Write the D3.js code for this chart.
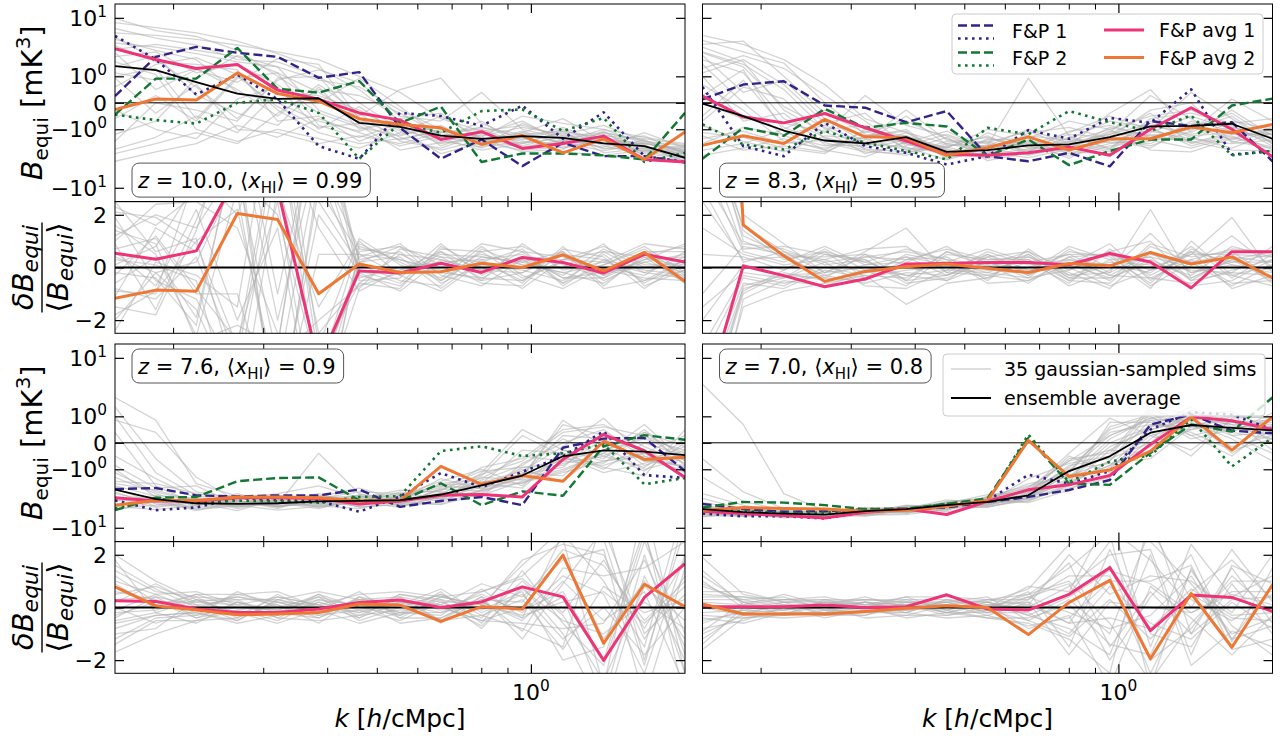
<!DOCTYPE html>
<html>
<head>
<meta charset="utf-8">
<script src="https://cdn.jsdelivr.net/npm/d3@7/dist/d3.min.js"></script>
<style>
html,body{margin:0;padding:0;background:#fff;}
svg text{font-family:"DejaVu Sans",sans-serif;fill:#000;}
</style>
</head>
<body>
<svg id="chart" width="1280" height="740"></svg>
<script>
// ---- k bins [h/cMpc] and tick values ----
const kBins = [0.154,0.185,0.222,0.267,0.320,0.385,0.462,0.555,0.667,0.801,0.962,1.155,1.387,1.666,2.0];
const kTicksMinor = [0.2,0.3,0.4,0.5,0.6,0.7,0.8,0.9];
const kTicksMajor = [1];
const bTicks = [-10,-1,0,1,10];
const bTickLabels = [["−10","1"],["−10","0"],["0",""],["10","0"],["10","1"]];
const ratioTicks = [-2,0,2];
const ratioTickLabels = ["−2","0","2"];

// ---- z = 10.0, <x_HI> = 0.99 ----
const fp1Dashed_z10 = [0.18,2.47,3.64,2.9,2.47,0.92,1.25,-0.92,-3.64,-1.66,-4.76,-1.92,-3.3,-3.3,-4.2];
const fp1Dotted_z10 = [5.4,2.22,0.23,1.1,0.09,-2.22,-3.64,-0.29,-0.4,-0.82,-0.07,-1.61,-0.27,-3.3,-4.1];
const fp2Dashed_z10 = [-0.35,0.88,0.88,3.5,0.43,0.29,0.76,-0.68,-0.10,-4.1,-2.98,-2.98,-3.2,-3.74,-0.29];
const fp2Dotted_z10 = [-0.35,-0.56,-0.71,0,0.09,-0.29,-3.64,-0.71,-1.2,-0.23,-0.18,-1.1,-0.47,-4.1,-2.9];
const avg1_z10 = [3.38,2.22,1.49,1.78,0.38,0.09,-0.29,-0.56,-1.66,-1.14,-2.44,-1.98,-1.42,-3.74,-4.12];
const avg2_z10 = [-0.18,0.10,0.07,1.2,0.26,0.04,-0.5,-0.76,-0.92,-2.06,-1.38,-2.9,-1.61,-3.74,-1.16];
const ens_z10 = [1.66,1.38,0.71,0.26,0.10,0.12,-0.68,-0.87,-1.38,-1.61,-1.42,-1.54,-1.98,-2.21,-3.51];
const avg1Ratio_z10 = [0.54,0.31,0.63,3.5,3.0,-3.7,-0.13,-0.21,0.16,-0.19,0.38,0.19,-0.21,0.5,0.21];
const avg2Ratio_z10 = [-1.17,-0.86,-0.9,2.05,1.82,-1.0,0.13,-0.19,-0.16,0.16,0,0.48,-0.13,0.57,-0.53];
const sims_z10 = [
[8.5,7.2,6.0,4.5,2.8,1.5,0.4,-0.6,-1.2,-0.9,-1.3,-1.1,-1.6,-2.0,-2.6],
[6.0,5.5,4.8,3.9,3.0,2.2,1.0,0.3,-0.5,-1.1,-0.8,-1.4,-1.2,-1.8,-2.2],
[4.2,3.6,2.8,2.0,1.6,0.8,0.5,-0.2,-1.0,-1.8,-1.1,-2.0,-1.6,-2.4,-3.0],
[2.5,3.0,1.2,1.8,0.6,-0.3,-0.9,-1.4,-0.8,-2.2,-1.9,-1.2,-2.5,-1.7,-3.4],
[1.2,0.8,1.5,0.4,-0.4,0.6,-0.3,-1.8,-2.4,-1.3,-0.6,-1.8,-2.0,-2.8,-2.3],
[-0.5,0.2,-0.6,0.9,1.2,-0.8,-1.5,-0.7,-1.6,-2.6,-2.0,-1.5,-1.3,-2.2,-4.0],
[-2.5,-1.5,-0.4,-1.2,0.3,0.2,-0.2,-1.1,-3.0,-1.9,-2.6,-2.3,-1.7,-1.4,-3.1],
[-4.0,-2.8,-2.0,-0.8,-1.5,-0.5,-1.2,-2.2,-1.4,-0.9,-1.5,-2.8,-3.2,-2.6,-2.7],
[3.3,4.0,3.2,2.5,1.2,0.3,-0.4,0.4,0.9,-0.7,-1.7,-1.0,-2.2,-3.0,-3.6],
[7.0,5.0,3.9,2.2,2.0,1.0,-0.6,-0.9,-2.0,-1.5,-0.4,-0.7,-1.0,-1.5,-2.0],
[0.5,1.8,2.4,1.1,-0.2,-1.2,-2.0,-1.6,-1.1,-2.4,-1.3,-1.9,-2.7,-1.9,-2.9],
[5.2,2.2,0.5,-0.5,0.8,1.4,0.7,-0.4,-0.6,0.3,-1.0,-1.6,-1.5,-2.3,-3.3],
[-1.3,-0.6,0.9,2.6,1.6,-0.2,-0.8,-2.6,-1.9,-1.1,-2.2,-1.4,-1.9,-2.0,-2.5],
[2.0,1.1,-1.0,-1.8,-1.0,-1.6,-2.4,-1.2,-0.4,-1.6,-2.8,-2.5,-1.1,-3.3,-3.8],
[9.8,6.5,5.3,3.2,1.0,0.0,0.9,-0.1,-1.5,-2.0,-1.6,-0.9,-2.0,-2.5,-3.0],
[1.6,2.6,0.2,-0.3,-0.8,0.5,-1.0,-0.5,-2.2,-1.2,-1.8,-2.1,-1.4,-1.6,-2.1],
[-0.2,-1.0,-1.6,0.1,0.5,-1.0,-0.1,-1.3,-0.9,-2.0,-1.2,-0.5,-1.8,-2.8,-3.5],
[3.8,2.0,1.8,1.4,-0.6,-0.4,-1.8,-0.8,-1.7,-0.6,-2.3,-1.7,-2.3,-1.2,-2.4],
[-3.0,-2.0,-1.2,-2.0,-0.3,0.4,0.2,-0.3,-1.3,-1.4,-0.9,-1.3,-0.8,-1.8,-2.8],
[2.9,0.4,1.4,0.7,2.3,1.8,-0.5,-1.5,-2.6,-1.7,-1.4,-2.4,-1.7,-2.1,-4.2],
[0.9,-0.3,0.6,-1.0,-1.2,-2.0,-1.4,-2.0,-1.2,-1.0,-2.0,-1.1,-2.9,-2.4,-2.2],
[4.8,3.2,2.2,0.3,0.0,-0.6,-1.1,-0.5,-0.3,-1.9,-1.2,-2.0,-1.2,-1.7,-2.9],
[-1.8,0.0,-0.2,-0.6,0.9,1.0,0.0,-1.0,-1.8,-2.3,-0.7,-1.6,-2.4,-2.6,-3.2],
[1.0,1.5,-0.5,1.0,-0.1,-0.9,-0.7,-1.7,-1.0,-1.5,-2.4,-1.8,-1.0,-2.0,-2.6]
];
const simsRatio_z10 = [
[1.2,2.0,1.5,4.0,-6.0,3.0,0.5,-0.3,0.4,0.2,-0.5,0.3,0.6,-0.2,0.4],
[-0.8,-1.2,0.4,-3.5,5.0,-2.5,-0.6,0.5,-0.2,-0.4,0.3,-0.6,0.1,0.7,-0.3],
[2.3,1.6,2.8,6.0,3.5,-4.0,0.9,0.2,-0.5,0.6,0.8,0.1,-0.4,0.3,0.9],
[0.4,-0.2,-1.6,-5.0,-3.0,7.0,-0.3,-0.7,0.6,-0.1,-0.2,0.5,0.3,-0.5,-0.1],
[-1.8,-0.9,1.0,2.2,-4.5,-5.0,0.2,0.4,-0.8,0.3,0.5,-0.4,-0.2,0.2,0.5],
[1.6,0.5,-2.6,3.0,6.0,1.5,-0.9,-0.1,0.2,-0.6,-0.7,0.7,0.4,-0.8,0.2],
[-0.3,1.2,-0.8,-2.8,2.5,-6.5,0.6,0.8,0.1,0.5,0.1,-0.2,-0.6,0.4,-0.6],
[0.9,-1.6,1.8,5.5,-2.0,4.5,-0.5,-0.4,0.9,-0.3,0.4,0.3,0.8,0.1,0.1],
[-2.4,0.2,-0.3,-1.5,7.5,-3.0,1.1,0.1,-0.4,0.8,-0.3,-0.8,0.0,-0.3,0.6],
[0.1,0.8,3.2,2.8,-5.5,2.0,-0.2,-0.9,0.3,-0.2,0.6,0.4,-0.3,0.6,-0.4],
[1.9,-0.5,-1.2,-4.2,4.0,5.5,0.3,0.6,-0.6,0.1,-0.1,-0.5,0.5,-0.6,0.3],
[-1.1,1.5,0.6,3.6,-3.5,-2.0,-0.7,-0.2,0.5,0.4,0.2,0.6,-0.5,0.2,-0.2],
[0.6,-0.7,2.2,-2.0,1.5,-7.0,0.8,0.3,-0.1,-0.5,0.9,-0.1,0.2,0.9,0.7],
[-0.6,0.4,-1.9,4.8,-6.5,3.5,-0.1,-0.6,0.7,0.6,-0.4,0.2,-0.1,-0.4,-0.5],
[2.1,1.9,0.9,-3.0,5.5,-4.5,0.4,0.9,-0.3,-0.7,0.3,-0.3,0.7,0.0,0.2],
[-1.5,-1.8,1.4,6.5,-1.0,6.0,-0.4,0.0,0.2,0.3,-0.6,0.8,-0.7,0.5,0.8],
[0.3,0.1,-0.5,-6.0,3.0,-1.5,1.0,-0.3,-0.9,0.2,0.7,-0.7,0.3,-0.1,-0.3],
[1.0,2.4,2.5,1.5,-2.5,-5.5,-0.8,0.7,0.4,-0.4,-0.5,0.5,-0.3,0.3,0.4],
[-0.2,-0.4,-2.2,5.0,4.5,2.5,0.1,-0.5,-0.7,0.7,0.1,0.0,0.9,-0.7,-0.1],
[2.5,0.6,1.1,-4.5,-4.0,4.0,0.7,0.5,0.3,-0.1,0.4,-0.4,-0.4,0.6,0.6],
[-0.9,-1.0,3.6,2.0,6.5,-3.5,-0.6,-0.8,0.8,0.0,-0.8,0.3,0.2,-0.2,-0.4],
[0.7,1.1,-1.0,-1.0,-6.0,0.5,0.5,0.3,-0.2,0.9,0.6,-0.6,0.6,0.4,0.0],
[-2.0,-0.2,0.2,3.5,2.0,-4.0,-0.2,-0.1,0.6,-0.5,-0.2,0.6,-0.8,-0.5,0.3],
[1.4,0.9,-2.8,-2.2,-3.0,6.5,0.2,0.8,-0.5,0.4,0.2,-0.2,0.1,0.8,-0.2]
];

// ---- z = 8.3, <x_HI> = 0.95 ----
const fp1Dashed_z83 = [0.09,0.6,0.75,-0.07,-0.13,-0.65,-0.23,-3.3,-4.0,-2.9,-4.8,-0.6,-0.82,-0.65,-4.0];
const fp1Dotted_z83 = [0.5,-2.22,-3.3,-0.68,-2.22,-2.9,-4.5,-3.3,-1.05,-1.61,-0.47,-0.68,0.41,-3.1,-2.72];
const fp2Dashed_z83 = [-3.64,-0.92,-1.4,-0.16,-0.92,-0.68,-0.85,-3.3,-1.66,-4.6,-2.7,-1.66,-1.66,-0.07,0.11];
const fp2Dotted_z83 = [-0.75,-2.06,-2.55,-1.1,-1.92,-2.7,-3.74,-0.92,-1.3,-0.23,-0.65,-1.1,-0.38,-3.2,-2.7];
const avg1_z83 = [0.18,-0.43,-0.68,-0.31,-0.92,-1.78,-3.1,-3.2,-2.9,-2.3,-3.2,-1.0,-0.13,-1.0,-3.38];
const avg2_z83 = [-2.15,-1.4,-1.98,-0.53,-1.47,-1.54,-3.2,-2.37,-1.47,-2.6,-1.61,-1.61,-0.88,-1.2,-0.75];
const ens_z83 = [-0.02,-0.4,-1.07,-1.74,-1.98,-1.49,-2.79,-2.6,-2.15,-2.06,-1.49,-0.85,-0.82,-0.72,-1.61];
const avg1Ratio_z83 = [-5.3,0.06,-0.31,-0.73,-0.44,0.13,0.15,0.19,0.19,0.1,0.53,0.21,-0.78,0.6,0.6];
const avg2Ratio_z83 = [30,1.61,0.44,-0.53,-0.15,0.03,0.13,-0.03,-0.19,0.15,0.06,0.57,0.13,0.4,-0.4];
const sims_z83 = [
[5.5,4.0,2.2,0.6,-0.5,-1.2,-2.0,-1.5,-2.4,-1.8,-1.0,-0.4,-0.2,-0.9,-1.3],
[4.0,4.5,1.0,-0.3,-1.2,-0.6,-1.6,-3.0,-1.5,-2.6,-1.8,-1.0,0.3,-0.5,-2.0],
[3.0,1.8,0.4,-1.0,-0.8,-2.0,-3.1,-2.2,0.9,-1.4,-2.5,-0.6,-1.4,-1.2,-0.8],
[2.2,1.2,-0.5,-1.5,-2.4,-1.7,-2.5,-3.6,-2.8,-1.1,-0.8,-1.5,-0.9,-0.3,-1.6],
[1.5,2.6,1.5,0.2,-0.6,-2.6,-2.2,-1.8,-3.1,-2.4,-1.2,0.2,-0.5,-1.8,-2.4],
[0.6,-0.2,-1.8,-2.4,-1.5,-1.0,-3.5,-2.8,-1.8,-3.0,-2.0,-1.6,-1.7,-0.6,-1.0],
[-0.4,0.8,-0.9,-1.9,-2.8,-3.0,-1.8,-2.0,-2.6,-1.6,-0.6,-0.9,-2.2,-1.4,-2.9],
[-1.2,-1.5,-2.4,-3.0,-1.0,-1.4,-2.6,-3.3,-1.2,-0.9,-1.6,-2.2,-1.1,0.1,-0.6],
[-2.0,-0.9,-1.3,-0.8,-2.0,-2.3,-3.8,-2.4,-2.0,-2.8,-3.0,-1.2,-0.4,-1.0,-1.9],
[-3.2,-2.4,-1.6,-2.6,-3.4,-1.8,-2.3,-1.4,-3.0,-1.9,-1.3,-0.7,-1.5,-2.4,-1.2],
[3.6,2.0,-0.2,-1.2,0.2,-0.8,-1.4,-2.6,-2.2,-3.3,-2.2,-1.8,-0.7,-0.8,-2.2],
[1.0,-0.6,-0.3,-2.1,-2.2,-1.2,-2.9,-1.7,-1.6,-0.6,-1.0,-2.6,-2.8,-1.6,-0.9],
[-0.8,-1.8,-2.8,-1.4,-1.6,-2.6,-1.5,-3.9,-2.9,-2.2,-0.3,0.4,-1.2,-0.2,-1.4],
[2.6,0.3,0.8,-0.5,-1.9,-0.4,-2.1,-2.2,-1.0,-2.0,-2.8,-1.3,-1.9,-1.2,-2.6],
[0.2,1.4,-1.1,-2.6,-1.1,-2.0,-3.3,-1.2,-2.3,-1.3,-1.5,-0.2,0.0,-1.9,-1.1],
[-1.6,-1.1,-2.0,-1.7,-2.6,-3.2,-2.0,-2.8,-3.5,-2.5,-0.9,-1.4,-1.0,-0.4,-2.0],
[4.6,3.0,1.9,0.0,-1.3,-1.4,-2.4,-1.0,-1.4,-1.7,-1.9,-2.0,-0.6,-1.1,-1.5],
[0.0,-0.5,-0.7,-1.1,-3.0,-1.9,-1.1,-2.5,-1.9,-3.6,-1.4,-1.1,-1.6,-2.0,-1.7],
[-2.6,-2.0,-1.0,-0.2,-0.9,-2.4,-2.7,-3.1,-2.5,-1.5,-2.4,-0.5,-0.3,-0.7,-0.5],
[1.8,0.0,-1.4,-2.2,-1.7,-0.2,-1.7,-1.9,-1.1,-2.3,-1.1,-1.7,-2.4,-1.5,-2.3],
[-0.6,0.5,0.1,-1.6,-2.1,-1.6,-3.0,-2.1,-2.7,-1.8,-2.6,-0.8,-1.3,-0.9,-1.8],
[2.9,1.6,-0.1,-0.9,-2.5,-2.8,-2.3,-3.4,-1.7,-2.7,-1.7,-2.4,-0.8,-1.7,-1.0],
[-1.4,-2.6,-2.2,-2.8,-1.4,-1.1,-3.7,-1.6,-2.1,-1.2,-0.4,-1.0,-1.8,-2.6,-2.7],
[1.2,2.2,0.6,-0.7,-0.3,-2.2,-1.3,-2.4,-3.2,-2.1,-1.3,-0.3,-2.0,-1.3,-1.3]
];
const simsRatio_z83 = [
[6.0,1.2,0.5,0.3,-0.2,0.4,0.1,-0.3,0.2,0.5,-0.2,2.2,-0.4,0.3,0.6],
[-5.0,-0.8,-0.4,0.5,0.3,-0.5,0.6,0.2,-0.4,-0.1,0.6,-0.3,0.5,1.9,-0.2],
[8.0,2.0,0.9,-0.2,0.6,1.5,-0.2,0.6,0.1,0.3,0.1,0.4,-0.7,-0.5,0.3],
[-7.0,-1.5,-0.9,-0.6,-0.3,-1.4,-0.6,-0.4,0.5,-0.5,-0.6,0.8,0.2,0.5,-0.6],
[4.0,0.6,0.2,0.8,0.1,0.2,0.8,-0.1,-0.2,0.8,0.3,-0.8,1.0,-0.3,0.1],
[-3.0,-0.3,-0.6,-0.3,-0.6,-0.2,-0.3,0.4,0.6,-0.4,-0.4,0.2,-0.3,0.8,0.4],
[5.5,1.6,0.6,0.2,0.4,0.6,0.3,-0.6,-0.5,0.1,0.9,-0.5,0.6,-0.8,-0.3],
[-6.0,-1.0,-0.2,-0.5,-0.1,-0.7,0.5,0.3,0.3,-0.7,-0.1,1.3,-0.2,0.2,0.5],
[2.5,0.3,0.4,0.4,0.5,0.1,-0.5,0.1,-0.6,0.4,0.5,-0.1,0.3,-0.6,-0.5],
[-4.5,-0.6,-0.8,-0.1,-0.4,0.5,0.2,-0.2,0.4,-0.2,-0.8,0.6,-0.5,0.4,0.2],
[7.0,1.4,0.3,0.6,0.2,-0.3,-0.1,0.5,-0.3,0.6,0.4,-0.6,0.7,0.1,-0.1],
[-2.0,0.1,-0.3,-0.4,-0.5,0.3,0.4,-0.5,0.7,-0.3,0.2,0.1,-0.1,-0.2,0.8],
[3.5,0.9,0.7,0.1,0.3,-0.6,-0.4,0.2,-0.1,0.2,-0.5,0.9,0.4,0.6,-0.4],
[-8.0,-1.2,-0.5,-0.7,-0.2,0.0,0.2,0.7,0.2,-0.6,0.7,-0.4,-0.6,-0.1,0.3],
[1.5,0.5,0.1,0.3,0.7,0.8,-0.2,-0.3,-0.5,0.3,-0.3,0.5,0.1,1.2,0.0],
[-3.5,-0.4,-0.7,0.0,-0.3,-0.4,0.6,0.0,0.5,-0.4,0.1,-0.2,0.8,-0.4,0.5],
[6.5,1.0,0.4,-0.3,0.1,0.4,-0.3,0.4,-0.2,0.1,-0.4,0.3,-0.4,0.3,-0.5],
[-5.5,-0.9,-0.1,0.6,-0.4,-0.1,0.0,-0.4,0.0,0.5,0.5,-0.7,0.2,-0.7,0.1],
[3.0,0.2,0.6,-0.2,0.4,0.3,0.7,0.3,0.4,-0.3,-0.2,0.6,-0.2,0.1,-0.2],
[-1.5,-0.2,-0.4,0.2,-0.7,-0.8,-0.1,-0.2,-0.4,0.7,0.0,0.0,0.5,0.5,0.4],
[5.0,0.7,0.8,0.5,0.2,0.7,0.3,0.1,0.6,-0.1,0.6,1.0,-0.5,-0.2,-0.3],
[-6.5,-0.7,-0.3,-0.2,0.0,-0.3,-0.5,0.5,-0.1,0.0,-0.7,-0.1,0.6,0.2,0.2],
[0.5,0.4,-0.1,0.7,-0.1,0.1,0.1,-0.1,0.3,-0.5,0.3,0.4,0.0,-0.3,-0.7],
[-1.0,0.8,0.5,-0.4,0.5,-0.5,-0.3,0.2,-0.3,0.4,-0.3,-0.4,0.3,0.7,0.6]
];

// ---- z = 7.6, <x_HI> = 0.9 ----
const fp1Dashed_z76 = [-2.5,-2.4,-3.2,-3.35,-3.2,-3.2,-2.55,-4.9,-3.95,-3.4,-4.6,-0.13,0.11,0.13,-1.1];
const fp1Dotted_z76 = [-3.85,-5.5,-5.0,-3.5,-3.85,-3.95,-5.8,-3.35,-1.22,-2.3,-1.15,-0.41,0.34,-1.35,-1.55];
const fp2Dashed_z76 = [-5.5,-3.5,-3.4,-1.8,-1.55,-1.51,-3.85,-3.95,-1.96,-4.6,-2.74,-3.25,-0.09,0.21,0.08];
const fp2Dotted_z76 = [-5.2,-3.6,-4.3,-3.9,-4.0,-4.2,-3.4,-3.3,-0.23,-0.09,-0.4,-0.3,-0.04,-2.05,-1.55];
const avg1_z76 = [-3.5,-3.95,-3.95,-3.5,-3.5,-3.6,-4.4,-3.95,-3.2,-3.1,-3.4,-0.53,0.23,-0.22,-1.51];
const avg2_z76 = [-4.6,-3.9,-3.9,-3.4,-3.4,-3.5,-3.95,-3.9,-0.85,-2.05,-1.38,-1.8,0.04,-0.53,-0.45];
const ens_z76 = [-2.55,-3.7,-4.3,-4.4,-4.3,-4.0,-3.95,-3.85,-3.1,-2.15,-1.38,-0.41,-0.21,-0.25,-0.37];
const avg1Ratio_z76 = [0.25,0.23,-0.06,-0.19,-0.19,-0.06,0.19,0.28,0,0.21,0.78,0.4,-2.01,0.38,1.66];
const avg2Ratio_z76 = [0.78,0.06,-0.1,-0.28,-0.25,-0.19,0.13,0.09,-0.53,0.03,-0.06,1.99,-1.36,0.88,0.03];
const sims_z76 = [
[1.6,-0.5,-2.8,-3.6,-3.0,-2.2,-3.5,-4.2,-2.6,-1.3,-0.6,0.3,0.5,0.2,-0.3],
[0.8,0.3,-1.5,-4.0,-4.8,-3.6,-2.8,-3.0,-3.8,-2.6,-0.9,-0.8,0.1,-0.6,-0.1],
[-0.4,-1.6,-3.6,-5.0,-3.8,-4.4,-4.6,-3.2,-1.8,-1.0,-2.2,-0.2,-0.5,0.4,-0.8],
[-1.5,-3.0,-4.8,-3.2,-4.5,-0.3,-3.0,-4.8,-3.4,-2.8,-1.5,0.8,-0.1,-1.0,-0.5],
[-2.4,-4.4,-5.2,-4.6,-5.5,-4.8,-4.0,-3.6,-2.0,-1.6,-0.4,-0.6,-0.8,-0.3,0.2],
[-3.4,-5.0,-4.2,-5.6,-3.6,-3.3,-5.0,-4.4,-4.2,-1.9,-1.1,-0.1,0.9,-0.4,-1.2],
[-4.5,-3.8,-5.6,-4.0,-4.2,-5.2,-3.6,-2.6,-2.8,-3.2,-1.8,-1.1,-0.3,0.6,-0.6],
[-5.2,-4.6,-3.9,-3.4,-5.0,-3.9,-4.4,-3.9,-3.0,-1.4,0.2,-0.4,-1.2,-0.7,-0.2],
[-2.0,-2.6,-4.0,-4.3,-3.4,-4.1,-3.2,-4.6,-2.4,-2.2,-1.3,-0.9,0.3,-0.2,-1.0],
[-3.0,-4.0,-3.4,-4.9,-4.0,-3.0,-4.8,-3.4,-3.6,-1.7,-0.8,0.1,-0.4,-0.9,0.1],
[1.0,-1.2,-3.2,-4.2,-4.6,-4.6,-3.9,-3.1,-2.2,-2.4,-1.6,-0.5,-0.7,0.3,-0.4],
[-1.0,-3.4,-4.6,-3.8,-3.3,-3.7,-4.2,-4.0,-4.5,-3.0,-1.2,-1.4,0.0,-0.5,-0.9],
[-3.8,-4.2,-5.0,-4.4,-4.8,-4.3,-3.4,-3.0,-2.7,-0.9,-0.5,0.4,0.6,-0.1,-0.7],
[-4.0,-3.2,-3.7,-5.2,-3.9,-5.0,-4.1,-5.0,-3.3,-2.0,-2.4,-0.3,-0.9,-1.4,0.4],
[0.3,-2.2,-4.4,-3.0,-4.4,-3.4,-2.4,-3.8,-1.6,-2.5,-1.0,-1.8,-0.2,0.1,-0.2],
[-2.8,-4.8,-4.1,-4.8,-3.2,-4.0,-4.3,-3.3,-4.0,-1.2,0.4,-0.2,-0.6,-0.3,-1.5],
[-1.8,-2.0,-3.0,-3.8,-5.2,-3.2,-3.8,-4.4,-2.5,-2.7,-1.4,0.6,0.2,-0.8,-0.3],
[-4.8,-5.4,-4.6,-4.1,-4.1,-4.7,-5.2,-3.7,-3.2,-1.8,-2.0,-0.7,-0.4,0.2,-0.6],
[-0.8,-2.4,-2.2,-4.5,-3.7,-3.5,-3.3,-4.1,-2.9,-3.4,-0.7,0.0,0.4,-0.5,-1.1],
[-3.6,-3.6,-4.5,-3.5,-4.7,-4.2,-4.5,-2.8,-3.7,-1.5,-1.7,-1.0,-0.3,-1.1,0.0],
[2.4,0.8,-2.0,-3.3,-3.5,-4.5,-3.1,-3.5,-2.1,-2.0,-0.2,-0.3,-1.0,0.0,-0.4],
[-2.2,-3.3,-5.4,-4.7,-4.4,-3.8,-4.0,-4.3,-3.5,-2.3,-1.3,0.2,0.1,-0.6,-0.8],
[-5.6,-4.0,-3.6,-4.3,-3.8,-4.9,-3.7,-3.6,-2.3,-1.1,-0.9,-0.6,-0.2,0.3,-0.1],
[-1.2,-2.8,-4.0,-3.9,-4.9,-3.5,-4.9,-4.5,-4.4,-2.6,-1.9,-1.2,-0.6,-0.4,-0.9]
];
const simsRatio_z76 = [
[2.0,1.0,0.3,0.2,-0.1,0.3,0.1,-0.2,0.4,0.6,1.2,2.6,-3.0,4.0,-2.5],
[-1.7,-1.0,-0.5,-0.4,0.2,-0.2,0.3,0.4,-0.5,-0.3,-0.8,-1.5,3.5,-2.0,3.0],
[1.0,0.5,0.6,0.1,0.4,0.1,-0.4,0.2,0.1,0.9,0.4,1.8,2.2,-3.5,1.5],
[-0.8,-0.3,-0.2,-0.6,-0.3,0.5,0.0,-0.3,0.6,-0.6,1.4,-0.6,-2.2,2.5,-1.0],
[0.5,0.8,0.2,0.4,0.1,-0.4,0.4,0.1,-0.2,0.2,-0.4,2.8,1.0,-1.5,4.0],
[-0.3,0.2,-0.4,-0.1,-0.5,0.2,-0.2,0.5,0.3,-0.8,0.8,-1.0,-4.0,1.2,-2.0],
[1.4,0.6,0.4,0.3,0.3,-0.1,0.6,-0.4,-0.4,0.4,-1.2,0.9,3.0,-1.0,0.5],
[0.0,-0.6,-0.1,-0.3,-0.2,0.4,-0.5,0.0,0.5,-0.1,0.6,-2.0,-1.5,3.0,-3.5],
[0.8,0.1,0.5,0.5,0.6,0.0,0.2,0.3,-0.1,0.5,-0.2,1.2,0.5,-2.5,2.0],
[-1.2,-0.4,-0.3,0.0,-0.1,-0.3,-0.1,-0.5,0.2,-0.4,1.0,-0.3,-2.8,0.8,-0.5],
[0.3,0.4,0.1,-0.5,0.3,0.6,0.3,0.2,-0.6,0.3,0.2,2.2,1.6,-0.5,1.0],
[-0.5,-0.2,-0.6,0.2,-0.4,-0.5,-0.3,-0.1,0.0,-0.5,-0.6,-0.8,-0.6,1.8,-1.5],
[1.6,0.7,0.0,0.4,0.2,0.1,0.5,0.6,0.4,0.1,1.6,3.0,2.6,-2.2,3.5],
[-1.0,-0.8,0.3,-0.2,-0.6,-0.1,-0.6,-0.2,-0.3,0.7,-0.4,0.4,-3.5,2.0,-2.5],
[0.6,0.3,-0.3,0.6,0.0,0.4,0.0,0.1,0.7,-0.2,0.5,-1.2,0.0,-1.8,0.0],
[-0.2,-0.1,0.4,-0.4,0.5,-0.3,0.2,-0.6,-0.4,0.3,-0.9,1.5,1.2,1.5,2.5],
[1.2,0.2,0.2,0.1,-0.3,0.2,-0.3,0.4,0.1,-0.7,0.7,-0.5,-1.0,0.2,-0.8],
[-1.4,-0.5,-0.5,-0.1,0.1,-0.6,0.4,-0.3,0.3,0.0,1.8,2.4,2.0,-1.2,1.2],
[0.2,0.9,0.1,0.3,-0.4,0.3,-0.1,0.3,-0.5,0.4,-0.1,0.6,-2.0,2.8,-1.8],
[-0.6,-0.3,-0.2,-0.5,0.3,0.0,0.1,0.0,0.5,-0.3,0.3,-1.6,0.8,-0.2,0.3],
[0.9,0.0,0.5,0.0,-0.1,0.5,-0.4,0.5,0.2,0.2,-0.5,1.0,-0.5,0.6,-3.0],
[-0.1,0.5,-0.1,0.5,0.2,-0.2,0.3,-0.2,-0.2,0.6,1.1,-0.2,1.8,-0.8,1.8],
[1.8,-0.2,0.3,-0.3,0.4,0.1,-0.2,0.2,0.0,-0.5,0.0,2.0,-1.2,1.0,-1.2],
[-0.4,0.4,-0.4,0.2,-0.2,-0.4,0.2,-0.4,0.4,0.1,-0.3,0.2,0.6,-0.6,0.8]
];

// ---- z = 7.0, <x_HI> = 0.8 ----
const fp1Dashed_z70 = [-4.4,-5.3,-5.8,-5.7,-5.3,-5.3,-5.0,-4.1,-3.4,-2.6,-1.7,0.6,1.1,0.36,0.27];
const fp1Dotted_z70 = [-6.2,-6.8,-6.8,-7.3,-5.9,-5.3,-4.6,-3.9,-1.33,-2.0,-1.1,0.4,1.24,1.1,0.4];
const fp2Dashed_z70 = [-5.0,-4.1,-4.2,-4.6,-5.3,-5.2,-4.4,-3.6,0.13,-2.0,-2.1,-0.29,0.6,0.33,2.4];
const fp2Dotted_z70 = [-5.3,-5.7,-6.0,-6.0,-5.3,-5.3,-4.4,-3.9,0.23,-1.87,-0.62,-0.38,0.85,-0.85,0.13];
const avg1_z70 = [-5.7,-6.2,-6.6,-7.2,-5.9,-5.3,-6.4,-4.0,-2.58,-2.1,-1.38,-0.04,0.97,0.77,0.4];
const avg2_z70 = [-5.5,-5.0,-5.2,-5.3,-5.7,-5.5,-4.8,-3.9,0.06,-1.45,-1.04,-0.23,0.97,-0.2,0.97];
const ens_z70 = [-5.3,-5.9,-6.2,-6.4,-5.7,-5.3,-4.6,-4.1,-3.2,-1.1,-0.41,0.29,0.58,0.46,0.37];
const avg1Ratio_z70 = [0.03,0.03,0.03,0.09,0,0.03,0.48,-0.06,-0.1,0.5,1.51,-0.88,0.47,0.38,-0.15];
const avg2Ratio_z70 = [0.13,-0.25,-0.25,-0.25,-0.15,-0.03,0.06,0,-1.03,0.19,1.03,-1.95,0.53,-1.51,0.86];
const sims_z70 = [
[4.0,0.6,-3.0,-5.6,-5.2,-5.0,-4.2,-3.6,-2.4,-0.6,0.2,0.9,1.2,0.8,0.5],
[-1.5,-4.0,-5.5,-6.0,-6.3,-5.5,-4.8,-4.5,-3.5,-1.8,-0.8,0.4,0.8,0.2,-0.3],
[-4.2,-5.2,-6.6,-6.8,-6.0,-5.8,-5.2,-3.8,-2.8,-0.9,0.3,0.6,0.4,1.0,0.9],
[-5.0,-6.4,-5.8,-7.2,-6.6,-4.8,-4.4,-4.8,-3.9,-2.2,-0.2,-0.3,0.9,0.6,0.1],
[-5.8,-6.0,-7.2,-6.4,-5.4,-6.0,-5.6,-3.3,-2.2,-1.4,-0.6,0.8,0.2,-0.4,0.6],
[-6.4,-6.8,-6.0,-5.8,-5.8,-5.2,-3.8,-4.3,-3.0,-0.4,-1.2,0.1,1.4,0.5,0.2],
[-7.0,-5.6,-6.4,-6.6,-5.0,-5.6,-4.6,-5.0,-3.6,-1.2,0.5,1.1,0.6,0.3,1.2],
[-4.6,-5.8,-6.9,-6.2,-6.1,-4.6,-4.9,-3.9,-4.2,-2.6,-0.9,0.2,-0.2,0.8,0.3],
[-5.5,-6.2,-5.6,-7.0,-5.6,-5.3,-5.4,-4.2,-1.6,-0.7,-0.4,1.4,0.7,0.1,-0.6],
[-6.0,-5.0,-6.2,-5.5,-6.4,-6.2,-4.1,-3.5,-3.3,-1.6,0.0,0.5,1.0,1.3,0.4],
[-3.0,-4.6,-6.0,-6.5,-5.5,-5.0,-4.5,-4.6,-2.6,-1.0,-0.7,-0.5,0.5,0.4,0.8],
[-6.8,-6.6,-6.7,-6.0,-6.8,-5.4,-5.0,-4.0,-3.8,-2.0,0.7,0.7,0.3,-0.2,0.1],
[-5.2,-5.4,-5.9,-6.9,-5.9,-5.9,-4.3,-3.1,-2.9,-0.5,-0.3,1.6,1.1,0.7,0.6],
[-6.2,-6.4,-6.5,-6.1,-5.3,-4.9,-5.8,-4.7,-3.4,-1.3,-1.0,0.3,-0.4,0.9,1.0],
[-4.8,-5.6,-6.3,-6.7,-6.2,-5.7,-4.0,-3.7,-2.0,-1.5,0.1,0.9,0.6,-0.1,0.2],
[-5.6,-6.9,-6.1,-6.3,-5.7,-5.1,-4.7,-4.4,-3.1,-0.8,-0.5,0.0,1.3,0.6,0.7],
[-6.6,-6.1,-7.0,-5.9,-6.5,-6.4,-5.3,-3.4,-3.7,-2.4,-1.5,0.6,0.5,1.1,0.0],
[-3.6,-5.3,-5.7,-6.4,-5.6,-5.5,-4.4,-4.1,-2.5,-1.1,0.4,1.0,0.1,0.4,0.9],
[-5.9,-6.3,-6.8,-6.6,-6.0,-4.7,-5.1,-4.9,-3.6,-1.7,-0.1,0.4,0.9,-0.3,0.4],
[-6.3,-5.7,-5.9,-7.1,-5.8,-6.1,-4.5,-3.9,-2.7,-0.3,0.9,0.2,0.6,0.8,-0.2],
[-5.1,-6.6,-6.4,-6.2,-6.4,-5.6,-4.8,-4.2,-4.0,-2.1,-0.6,1.2,0.2,0.5,0.5],
[-5.4,-5.5,-6.6,-6.0,-5.4,-5.4,-5.2,-3.6,-2.3,-0.6,-0.2,0.5,1.6,0.2,0.3],
[-6.1,-6.5,-6.2,-6.8,-6.2,-5.3,-4.2,-4.6,-3.2,-1.9,-0.8,-0.1,0.4,0.7,0.8],
[-0.5,-2.8,-5.2,-6.4,-5.9,-5.8,-4.6,-4.4,-2.9,-1.1,0.2,0.8,0.8,0.3,0.1]
];
const simsRatio_z70 = [
[1.9,0.5,0.2,0.3,0.1,0.2,0.1,0.3,0.5,1.5,2.8,-3.0,1.5,-1.2,0.8],
[-1.6,-0.4,-0.3,-0.2,-0.3,0.1,-0.2,-0.4,-0.6,-1.2,-2.5,3.5,-1.0,1.5,-0.6],
[0.8,0.3,0.4,-0.1,0.2,-0.2,0.3,0.0,0.8,0.6,3.5,-1.5,2.4,0.4,1.2],
[-0.5,-0.2,-0.1,0.2,0.0,0.3,-0.1,0.2,-0.3,-0.8,-1.8,2.0,-2.2,-0.9,-1.5],
[0.4,0.4,0.1,0.1,0.4,0.0,0.2,-0.2,0.3,1.2,1.2,-2.5,0.6,1.8,0.3],
[-1.0,-0.3,-0.4,-0.3,-0.2,-0.1,0.0,0.1,-0.8,-0.3,-3.0,0.8,-0.4,-1.8,-0.3],
[1.2,0.2,0.3,0.4,0.1,0.4,0.4,0.3,0.1,2.0,0.5,1.2,1.0,-0.2,2.0],
[-0.2,-0.1,-0.2,0.0,-0.4,-0.3,-0.3,-0.1,0.6,-1.5,2.2,-1.0,-1.5,0.9,-1.0],
[0.6,0.6,0.2,0.2,0.3,0.2,0.2,0.4,-0.5,0.3,-1.0,3.0,0.3,-0.5,0.5],
[-0.8,-0.5,0.0,-0.4,-0.1,-0.2,-0.4,-0.3,0.2,-0.6,1.6,-2.0,-0.8,1.2,-0.2],
[0.2,0.1,0.5,0.1,0.2,0.1,0.1,0.0,0.4,0.9,-2.0,0.4,2.0,-1.3,1.5],
[-0.4,-0.6,-0.2,-0.2,0.0,-0.4,-0.2,-0.2,-0.2,-1.0,0.8,-0.6,-1.2,0.2,-0.8],
[1.4,0.1,0.3,0.3,0.3,0.3,0.3,0.2,0.7,2.4,3.0,1.8,0.0,2.2,0.2],
[-1.2,-0.2,-0.3,-0.1,-0.2,0.0,-0.1,-0.4,-0.4,0.1,-1.4,-1.8,1.4,-0.7,-1.8],
[0.3,0.3,0.0,0.0,0.2,-0.1,0.0,0.1,0.2,-1.8,0.2,0.0,-0.2,0.6,0.6],
[0.0,-0.3,0.2,-0.3,-0.3,0.2,0.2,0.2,-0.1,0.5,2.5,2.5,0.9,-1.0,-0.4],
[0.9,0.2,-0.1,0.2,0.1,0.1,-0.3,0.0,0.5,1.0,-0.6,-2.8,-0.6,1.0,1.0],
[-0.6,-0.1,0.1,-0.1,-0.1,-0.3,0.1,-0.3,-0.7,-0.4,1.0,1.0,1.6,-1.6,-1.2],
[0.5,0.4,0.3,0.2,0.0,0.4,-0.1,0.3,0.3,1.7,-1.5,0.6,-1.0,0.3,0.4],
[-0.3,-0.4,-0.2,-0.2,-0.2,-0.2,0.3,-0.1,-0.5,-1.1,0.3,-1.2,0.5,-0.4,-0.5],
[1.0,0.0,0.2,0.1,0.3,0.2,-0.2,0.1,0.0,0.8,2.0,2.2,-1.8,1.6,0.9],
[-0.9,0.2,-0.3,0.3,-0.1,-0.1,0.2,-0.2,0.4,-0.2,-0.8,-0.3,1.2,-1.2,-0.7],
[0.1,-0.2,0.1,-0.2,0.2,0.1,-0.2,0.2,-0.3,0.4,1.4,0.9,-0.2,0.5,0.1],
[-1.4,0.0,-0.1,0.0,0.0,0.0,0.0,-0.1,0.1,-0.6,-0.4,-0.8,0.7,-0.3,-0.2]
];

// ---- layout ----
const svg = d3.select("#chart");
const defs = svg.append("defs");
const colX = [115, 702.5], panelW = 570;
const rowTop = [4, 344], mainH = 197.6, ratioH = 131.7;

const C = {
  indigo: "#332288", green: "#117733", pink: "#EE3377", orange: "#EE7733",
  sim: "#b0b0b0"
};
const DASH = "9,4", DOT = "2.6,4.4";

const panels = [
  {z:"10.0", xhi:"0.99", col:0, row:0, box:"bottom",
   fp1a:fp1Dashed_z10, fp1b:fp1Dotted_z10, fp2a:fp2Dashed_z10, fp2b:fp2Dotted_z10,
   avg1:avg1_z10, avg2:avg2_z10, ens:ens_z10, sims:sims_z10,
   avg1R:avg1Ratio_z10, avg2R:avg2Ratio_z10, simsR:simsRatio_z10},
  {z:"8.3", xhi:"0.95", col:1, row:0, box:"bottom",
   fp1a:fp1Dashed_z83, fp1b:fp1Dotted_z83, fp2a:fp2Dashed_z83, fp2b:fp2Dotted_z83,
   avg1:avg1_z83, avg2:avg2_z83, ens:ens_z83, sims:sims_z83,
   avg1R:avg1Ratio_z83, avg2R:avg2Ratio_z83, simsR:simsRatio_z83},
  {z:"7.6", xhi:"0.9", col:0, row:1, box:"top",
   fp1a:fp1Dashed_z76, fp1b:fp1Dotted_z76, fp2a:fp2Dashed_z76, fp2b:fp2Dotted_z76,
   avg1:avg1_z76, avg2:avg2_z76, ens:ens_z76, sims:sims_z76,
   avg1R:avg1Ratio_z76, avg2R:avg2Ratio_z76, simsR:simsRatio_z76},
  {z:"7.0", xhi:"0.8", col:1, row:1, box:"top",
   fp1a:fp1Dashed_z70, fp1b:fp1Dotted_z70, fp2a:fp2Dashed_z70, fp2b:fp2Dotted_z70,
   avg1:avg1_z70, avg2:avg2_z70, ens:ens_z70, sims:sims_z70,
   avg1R:avg1Ratio_z70, avg2R:avg2Ratio_z70, simsR:simsRatio_z70}
];

function addPath(g, line, data, stroke, width, dash, opacity) {
  const p = g.append("path").attr("d", line(data)).attr("fill","none")
    .attr("stroke", stroke).attr("stroke-width", width)
    .attr("stroke-linejoin","round");
  if (dash) p.attr("stroke-dasharray", dash);
  if (opacity != null) p.attr("stroke-opacity", opacity);
  return p;
}

function drawTicks(scale, orient, pos, values, size, width) {
  const ax = (orient === "left" ? d3.axisLeft : orient === "right" ? d3.axisRight :
              orient === "top" ? d3.axisTop : d3.axisBottom)(scale)
    .tickValues(values).tickSize(-size).tickFormat("");
  const g = svg.append("g")
    .attr("transform", (orient === "left" || orient === "right") ? `translate(${pos},0)` : `translate(0,${pos})`)
    .call(ax);
  g.select(".domain").remove();
  g.selectAll("line").attr("stroke","#000").attr("stroke-width", width);
  g.selectAll("text").remove();
}

function supText(parent, x, y, base, sup, size, anchor) {
  const t = parent.append("text").attr("x", x).attr("y", y)
    .attr("font-size", size).attr("text-anchor", anchor);
  t.append("tspan").text(base);
  if (sup) t.append("tspan").attr("font-size", size*0.7).attr("dy", -size*0.42).text(sup);
  return t;
}

panels.forEach((p, i) => {
  const x0 = colX[p.col], top = rowTop[p.row];
  const mBot = top + mainH, rBot = mBot + ratioH;
  const x = d3.scaleLog().domain([kBins[0], kBins[kBins.length-1]]).range([x0, x0 + panelW]);
  const yM = d3.scaleSymlog().constant(0.8).domain([-15.7, 15.7]).range([mBot, top]);
  const yR = d3.scaleLinear().domain([-2.5, 2.5]).range([rBot, mBot]);

  defs.append("clipPath").attr("id", "cm"+i).append("rect")
    .attr("x", x0).attr("y", top).attr("width", panelW).attr("height", mainH);
  defs.append("clipPath").attr("id", "cr"+i).append("rect")
    .attr("x", x0).attr("y", mBot).attr("width", panelW).attr("height", ratioH);

  const lineM = d3.line().x((d, j) => x(kBins[j])).y(d => yM(d));
  const lineR = d3.line().x((d, j) => x(kBins[j])).y(d => yR(d));

  // main panel: bispectrum
  const gM = svg.append("g").attr("clip-path", `url(#cm${i})`);
  p.sims.forEach(s => addPath(gM, lineM, s, C.sim, 1.3, null, 0.55));
  gM.append("line").attr("x1", x0).attr("x2", x0+panelW).attr("y1", yM(0)).attr("y2", yM(0))
    .attr("stroke","#000").attr("stroke-width",1);
  addPath(gM, lineM, p.fp1a, C.indigo, 2.4, DASH);
  addPath(gM, lineM, p.fp1b, C.indigo, 2.6, DOT);
  addPath(gM, lineM, p.fp2a, C.green, 2.4, DASH);
  addPath(gM, lineM, p.fp2b, C.green, 2.6, DOT);
  addPath(gM, lineM, p.avg1, C.pink, 3);
  addPath(gM, lineM, p.avg2, C.orange, 3);
  addPath(gM, lineM, p.ens, "#000", 1.8);

  // ratio panel: fractional deviation from the ensemble average
  const gR = svg.append("g").attr("clip-path", `url(#cr${i})`);
  p.simsR.forEach(s => addPath(gR, lineR, s, C.sim, 1.3, null, 0.55));
  gR.append("line").attr("x1", x0).attr("x2", x0+panelW).attr("y1", yR(0)).attr("y2", yR(0))
    .attr("stroke","#000").attr("stroke-width",2);
  addPath(gR, lineR, p.avg1R, C.pink, 3);
  addPath(gR, lineR, p.avg2R, C.orange, 3);

  // frames
  svg.append("rect").attr("x", x0).attr("y", top).attr("width", panelW).attr("height", mainH)
    .attr("fill","none").attr("stroke","#000").attr("stroke-width",1);
  svg.append("rect").attr("x", x0).attr("y", mBot).attr("width", panelW).attr("height", ratioH)
    .attr("fill","none").attr("stroke","#000").attr("stroke-width",1);

  // ticks (pointing inward, on all four sides)
  [[top, mBot], [mBot, rBot]].forEach(([t, b]) => {
    drawTicks(x, "bottom", b, kTicksMajor, 9, 1.2);
    drawTicks(x, "bottom", b, kTicksMinor, 5.5, 1);
    drawTicks(x, "top", t, kTicksMajor, 9, 1.2);
    drawTicks(x, "top", t, kTicksMinor, 5.5, 1);
  });
  drawTicks(yM, "left", x0, bTicks, 9, 1.2);
  drawTicks(yM, "right", x0+panelW, bTicks, 9, 1.2);
  drawTicks(yR, "left", x0, ratioTicks, 9, 1.2);
  drawTicks(yR, "right", x0+panelW, ratioTicks, 9, 1.2);

  // tick labels on the left column
  if (p.col === 0) {
    bTicks.forEach((v, j) => {
      const [b, s] = bTickLabels[j];
      supText(svg, x0 - 8, yM(v) + 8, b, s, 22, "end");
    });
    ratioTicks.forEach((v, j) => {
      svg.append("text").attr("x", x0 - 8).attr("y", yR(v) + 8)
        .attr("font-size", 22).attr("text-anchor","end").text(ratioTickLabels[j]);
    });
    // y labels
    const yl = svg.append("text").attr("font-size", 29).attr("text-anchor","middle")
      .attr("transform", `translate(42,${(top+mBot)/2}) rotate(-90)`);
    yl.append("tspan").attr("font-style","italic").text("B");
    yl.append("tspan").attr("font-size", 20).attr("dy", 6).text("equi");
    yl.append("tspan").attr("dy", -6).text(" [mK");
    yl.append("tspan").attr("font-size", 20).attr("dy", -12).text("3");
    yl.append("tspan").attr("dy", 12).text("]");

    const fr = svg.append("g").attr("transform", `translate(42,${(mBot+rBot)/2}) rotate(-90)`);
    const num = fr.append("text").attr("font-size", 29).attr("text-anchor","middle").attr("y", -9);
    num.append("tspan").attr("font-style","italic").text("δB");
    num.append("tspan").attr("font-style","italic").attr("font-size", 22).attr("dy", 5).text("equi");
    const den = fr.append("text").attr("font-size", 29).attr("text-anchor","middle").attr("y", 26);
    den.append("tspan").text("⟨");
    den.append("tspan").attr("font-style","italic").text("B");
    den.append("tspan").attr("font-style","italic").attr("font-size", 22).attr("dy", 5).text("equi");
    den.append("tspan").attr("dy", -5).text("⟩");
    const w = Math.max(num.node().getComputedTextLength(), den.node().getComputedTextLength());
    fr.append("line").attr("x1", -w/2).attr("x2", w/2).attr("y1", 0).attr("y2", 0)
      .attr("stroke","#000").attr("stroke-width", 1.4);
  }

  // x labels on the bottom row
  if (p.row === 1) {
    supText(svg, x(1), rBot + 27, "10", "0", 22, "middle");
    const xl = svg.append("text").attr("x", x0 + panelW/2).attr("y", rBot + 54)
      .attr("font-size", 25).attr("text-anchor","middle");
    xl.append("tspan").attr("font-style","italic").text("k");
    xl.append("tspan").text(" [");
    xl.append("tspan").attr("font-style","italic").text("h");
    xl.append("tspan").text("/cMpc]");
  }

  // redshift / neutral fraction annotation
  const bx = x0 + 17;
  const boxTop = p.box === "bottom" ? mBot - 38.5 : top + 5;
  const ann = svg.append("g");
  const t = ann.append("text").attr("x", bx + 6).attr("y", boxTop + 25).attr("font-size", 21);
  t.append("tspan").attr("font-style","italic").text("z");
  t.append("tspan").text(` = ${p.z}, ⟨`);
  t.append("tspan").attr("font-style","italic").text("x");
  t.append("tspan").attr("font-size", 15).attr("dy", 5).text("HI");
  t.append("tspan").attr("dy", -5).text(`⟩ = ${p.xhi}`);
  const tw = t.node().getComputedTextLength();
  ann.insert("rect", "text").attr("x", bx).attr("y", boxTop).attr("width", tw + 14).attr("height", 34)
    .attr("rx", 7).attr("fill","#fff").attr("stroke","#555").attr("stroke-width", 1);
});

// ---- legends ----
function legendBox(x, y, w, h) {
  svg.append("rect").attr("x", x).attr("y", y).attr("width", w).attr("height", h).attr("rx", 4)
    .attr("fill","#fff").attr("fill-opacity", 0.8).attr("stroke","#ccc").attr("stroke-width", 1);
}
function legLine(x1, x2, y, stroke, width, dash, opacity) {
  const l = svg.append("line").attr("x1", x1).attr("x2", x2).attr("y1", y).attr("y2", y)
    .attr("stroke", stroke).attr("stroke-width", width);
  if (dash) l.attr("stroke-dasharray", dash);
  if (opacity != null) l.attr("stroke-opacity", opacity);
}
function legText(x, y, s) {
  svg.append("text").attr("x", x).attr("y", y + 7).attr("font-size", 19).text(s);
}

legendBox(952, 14, 311, 60);
legLine(958, 994, 25.5, C.indigo, 2.4, DASH);
legLine(958, 994, 38.5, C.indigo, 2.6, DOT);
legText(1012, 31, "F&P 1");
legLine(958, 994, 52.5, C.green, 2.4, DASH);
legLine(958, 994, 65.5, C.green, 2.6, DOT);
legText(1012, 58, "F&P 2");
legLine(1104, 1144, 30, C.pink, 3);
legText(1159, 30, "F&P avg 1");
legLine(1104, 1144, 57.5, C.orange, 3);
legText(1159, 57.5, "F&P avg 2");

legendBox(943, 354, 322, 62);
legLine(951, 991, 369, C.sim, 1.3, null, 0.55);
legText(1004, 369, "35 gaussian-sampled sims");
legLine(951, 991, 398, "#000", 1.8);
legText(1004, 398, "ensemble average");
</script>
</body>
</html>
